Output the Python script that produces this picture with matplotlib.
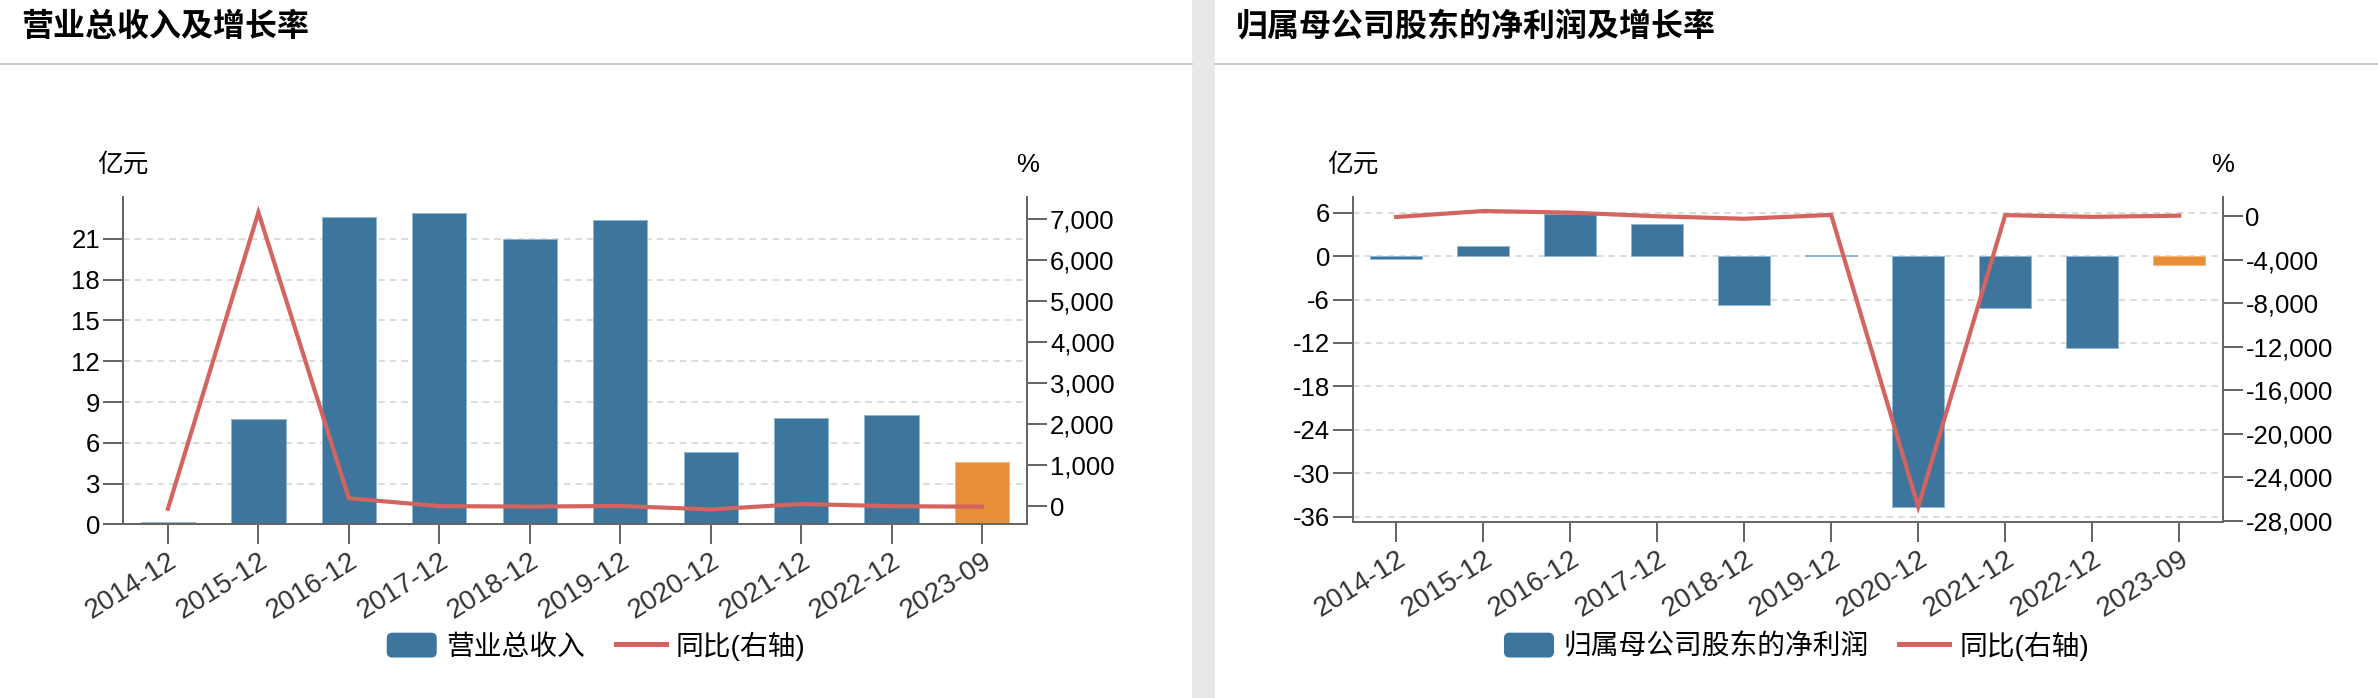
import matplotlib
matplotlib.use('Agg')
import matplotlib.pyplot as plt
import numpy as np
from matplotlib.patches import Rectangle, FancyBboxPatch, Patch
from matplotlib.lines import Line2D
from matplotlib.legend_handler import HandlerPatch
from matplotlib.ticker import FuncFormatter

plt.rcParams['font.family'] = ['Liberation Sans', 'Noto Sans CJK SC']
plt.rcParams['axes.unicode_minus'] = False

# 数据
periods = ['2014-12', '2015-12', '2016-12', '2017-12', '2018-12',
           '2019-12', '2020-12', '2021-12', '2022-12', '2023-09']
revenue = [0.15, 7.75, 22.65, 22.9, 21.0, 22.4, 5.34, 7.84, 8.06, 4.58]
revenue_yoy = [-60, 7150, 195, 5, -7, 8, -76, 55, 3, -10]
profit = [-0.4, 1.43, 5.86, 4.43, -6.78, 0.13, -34.7, -7.15, -12.7, -1.25]
profit_yoy = [-92, 457, 310, -24, -253, 101, -26690, 79, -78, 30]

BLUE = '#3e759c'
ORANGE = '#e88f3a'
RED = '#d4645f'
SPINE = '#666666'

W, H = 2378, 698


def fx(px):
    return px / W


def fy(py):
    return 1 - py / H


fig = plt.figure(figsize=(W / 100, H / 100), dpi=100)


def rounded_patch(legend, orig_handle, xdescent, ydescent, width, height, fontsize):
    return FancyBboxPatch((-xdescent, -ydescent), width, height,
                          boxstyle='round,pad=0,rounding_size=4')


def panel(x0, x1, ytop, ybot, values, yoy, ylim, yticks, rlim, rticks,
          title, bar_name, pleft, pright):
    ax = fig.add_axes([fx(x0), fy(ybot), (x1 - x0) / W, (ybot - ytop) / H])
    axr = ax.twinx()
    x = np.arange(len(periods))
    cols = [BLUE] * (len(x) - 1) + [ORANGE]
    edges = ['#8fb6d3'] * (len(x) - 1) + ['#f3b87e']
    ax.bar(x, values, width=0.6, color=cols, edgecolor=edges, linewidth=0.7, zorder=2)
    axr.plot(x, yoy, color=RED, lw=3, zorder=3, solid_joinstyle='miter')

    ax.set_xlim(-0.5, len(x) - 0.5)
    ax.set_ylim(*ylim)
    ax.set_yticks(yticks)
    ax.yaxis.set_major_formatter(FuncFormatter(lambda v, _: f'{v:.0f}'))
    axr.set_ylim(*rlim)
    axr.set_yticks(rticks)
    axr.yaxis.set_major_formatter(FuncFormatter(lambda v, _: f'{v:,.0f}'))

    ax.set_xticks(x)
    ax.set_xticklabels(periods, rotation=32, ha='right', va='top',
                       rotation_mode='anchor', color='#333333', fontsize=20)
    for a in (ax, axr):
        a.tick_params(axis='y', length=14.4, width=1.44, color=SPINE, pad=2, labelsize=18.5)
    ax.tick_params(axis='x', length=14.4, width=1.44, color=SPINE, pad=3)

    ax.grid(axis='y', color='#dcdcdc', lw=1.44, linestyle=(0, (3.3, 2.5)))
    ax.set_axisbelow(True)
    for s in ('top', 'right'):
        ax.spines[s].set_visible(False)
    for s in ('top', 'left', 'bottom'):
        axr.spines[s].set_visible(False)
    for sp in (ax.spines['left'], ax.spines['bottom'], axr.spines['right']):
        sp.set_color(SPINE)
        sp.set_linewidth(1.44)

    fig.text(fx(x0), fy(165), '亿元', ha='center', va='center', fontsize=18.5)
    fig.text(fx(x1), fy(165), '%', ha='center', va='center', fontsize=18.5)
    fig.text(fx(pleft + 21), fy(28), title, ha='left', va='center',
             fontsize=23, fontweight='bold')
    fig.add_artist(Line2D([fx(pleft), fx(pright)], [fy(64), fy(64)],
                          color='#cccccc', lw=1.44))

    handles = [Patch(facecolor=BLUE), Line2D([], [], color=RED, lw=3.6)]
    fig.legend(handles, [bar_name, '同比(右轴)'], loc='center',
               bbox_to_anchor=(fx((pleft + pright) / 2), fy(646)),
               ncol=2, frameon=False, fontsize=20, handlelength=1.8,
               handleheight=1.0, handletextpad=0.36, columnspacing=1.08,
               handler_map={Patch: HandlerPatch(patch_func=rounded_patch)})
    return ax, axr


panel(122.7, 1027.3, 196.7, 524.3, revenue, revenue_yoy,
      (0, 24.11), list(range(0, 22, 3)), (-438, 7533), list(range(0, 7001, 1000)),
      '营业总收入及增长率', '营业总收入', 0, 1192)

panel(1352.7, 2222.7, 196.7, 522.3, profit, profit_yoy,
      (-36.77, 8.21), list(range(-36, 7, 6)), (-28120, 1772), list(range(-28000, 1, 4000)),
      '归属母公司股东的净利润及增长率', '归属母公司股东的净利润', 1215, 2378)

fig.add_artist(Rectangle((fx(1192), 0), fx(1215) - fx(1192), 1,
                         transform=fig.transFigure, color='#e8e8e8', lw=0))

fig.savefig('out.png', dpi=100)
